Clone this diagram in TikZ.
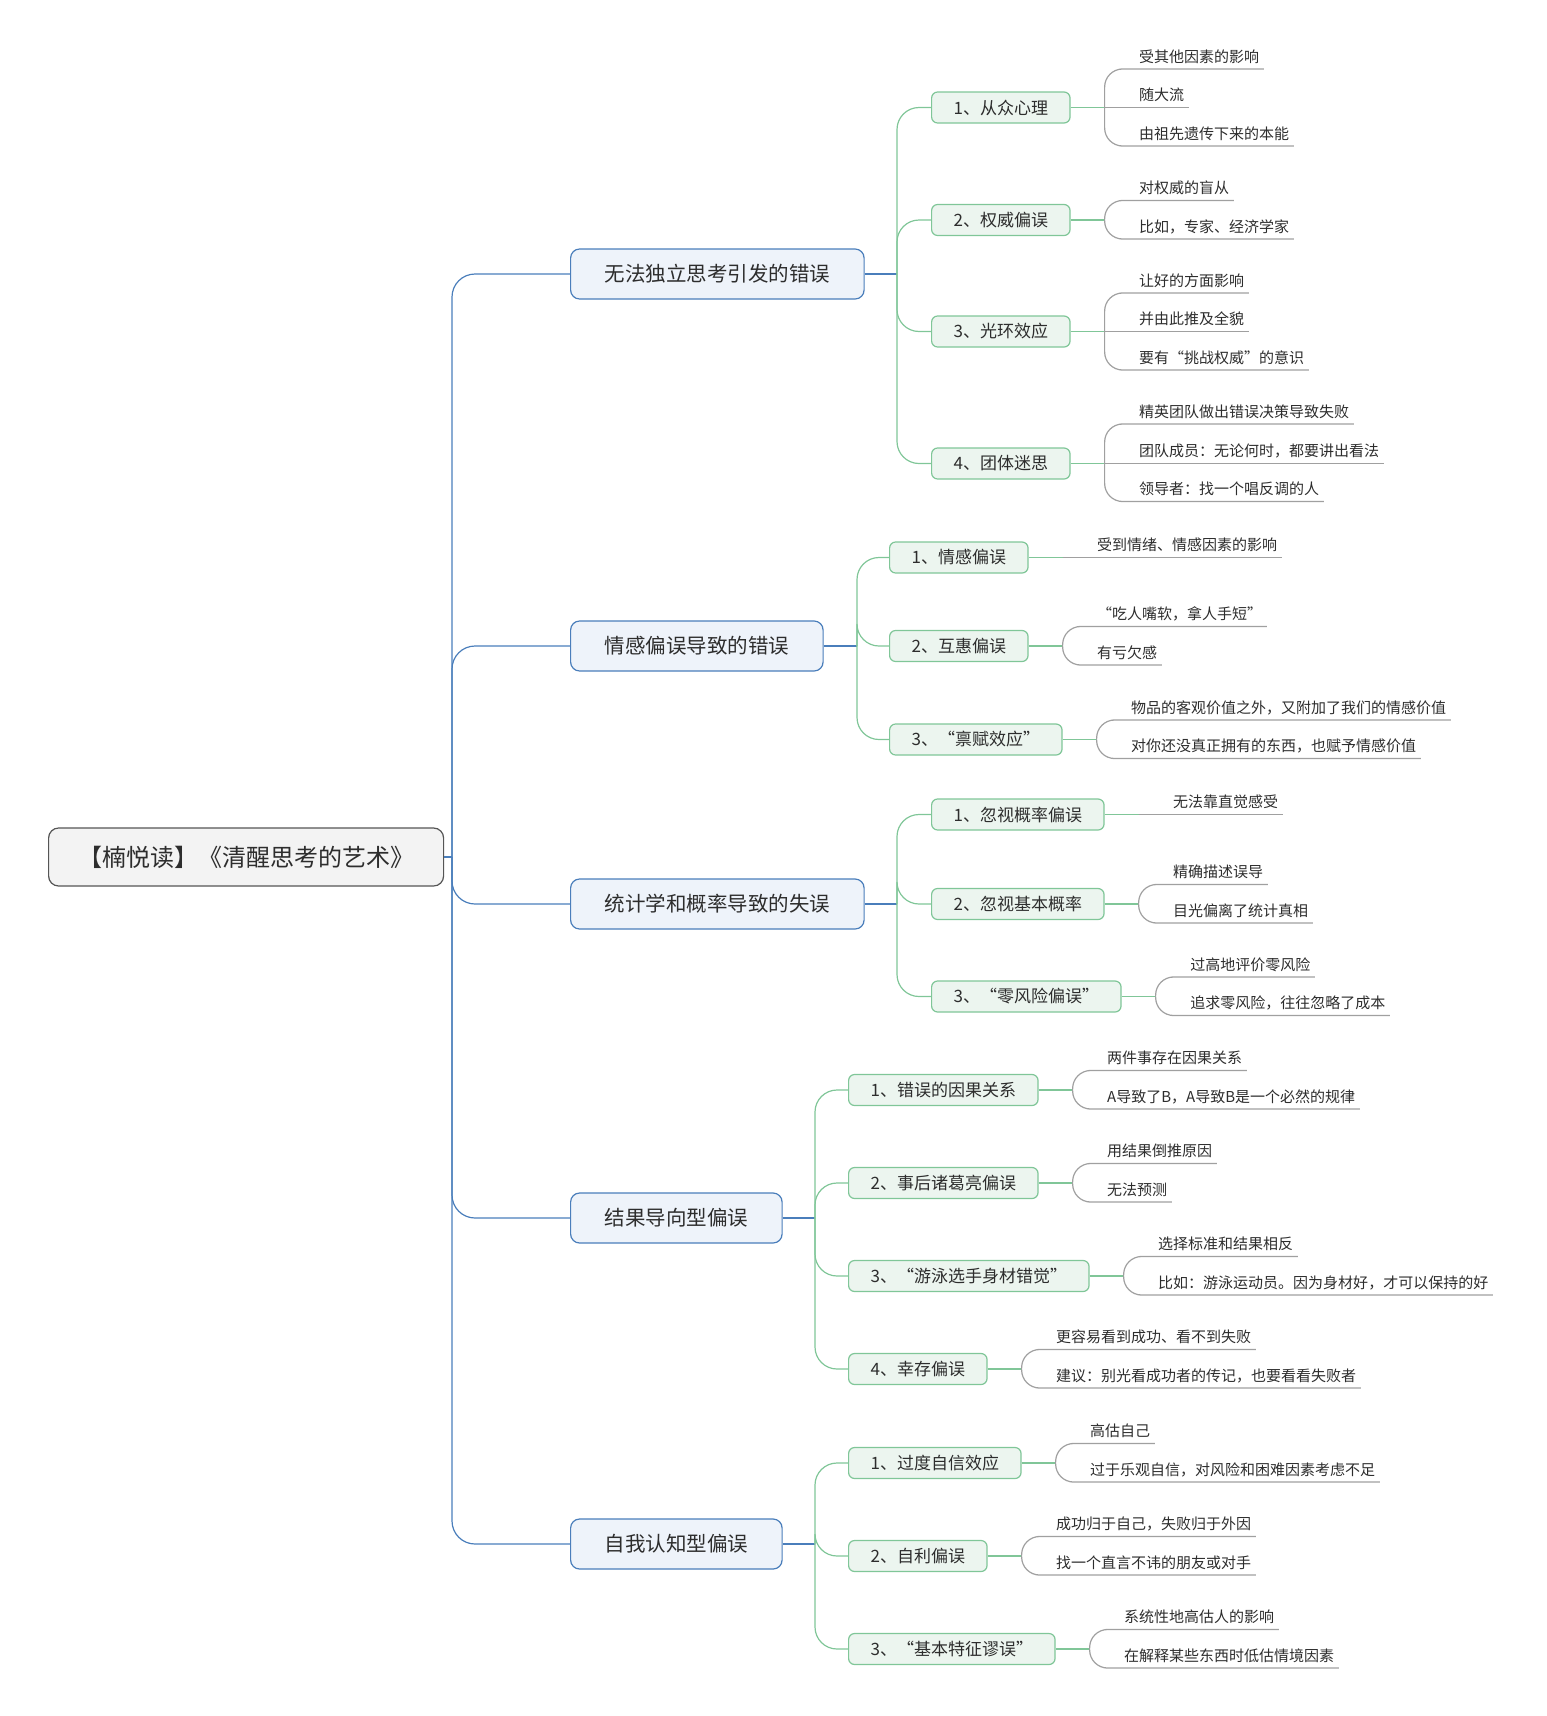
\documentclass[tikz,border=0pt]{standalone}
\usepackage{fontspec}
\setmainfont{Noto Sans CJK SC}
\usepackage{xcolor}
\usepackage{tikz}
\usetikzlibrary{calc,positioning}
\definecolor{mainblue}{RGB}{74,126,187}
\definecolor{mainfill}{RGB}{238,243,250}
\definecolor{subgreen}{RGB}{128,198,152}
\definecolor{subfill}{RGB}{236,245,239}
\definecolor{rootline}{RGB}{85,85,85}
\definecolor{rootfill}{RGB}{243,243,243}
\definecolor{leafline}{RGB}{160,160,160}
\definecolor{txt}{RGB}{45,45,45}

\begin{document}
\begin{tikzpicture}[x=1pt,y=-1pt,line width=1.2pt,text=txt]
\tikzset{
  rootbox/.style={draw=rootline,fill=rootfill,rounded corners=10pt,anchor=west,minimum width=395pt,minimum height=58pt,font=\fontsize{24}{28}\selectfont},
  mainbox/.style={draw=mainblue,fill=mainfill,rounded corners=9pt,anchor=west,inner xsep=34pt,minimum height=50pt,font=\fontsize{20.5}{24}\selectfont},
  subbox/.style={draw=subgreen,fill=subfill,rounded corners=6pt,anchor=west,inner xsep=22pt,minimum height=31pt,font=\fontsize{17}{20}\selectfont},
  leaf/.style={anchor=south west,inner xsep=0pt,inner ysep=3pt,text depth=3pt,font=\fontsize{15}{18}\selectfont},
  bl/.style={draw=mainblue,rounded corners=23pt},
  gr/.style={draw=subgreen,rounded corners=22pt},
  lf/.style={draw=leafline,rounded corners=18pt}
}
\useasboundingbox (0,0) rectangle (1547,1716);

% root and main topics
\node[rootbox] (root) at (48,857) {【楠悦读】《清醒思考的艺术》};
\node[mainbox] (m1) at (570,274) {无法独立思考引发的错误};
\node[mainbox] (m2) at (570,646) {情感偏误导致的错误};
\node[mainbox] (m3) at (570,904) {统计学和概率导致的失误};
\node[mainbox] (m4) at (570,1218) {结果导向型偏误};
\node[mainbox] (m5) at (570,1544) {自我认知型偏误};
\coordinate (t0) at (452,857);
\draw[bl] (root.east) -- (t0);
\foreach \m in {m1,m2,m3,m4,m5}\draw[bl] (t0) |- (\m.west);

% branch 1
\node[subbox] (s11) at (931,107.5) {1、从众心理};
\node[subbox] (s12) at (931,220) {2、权威偏误};
\node[subbox] (s13) at (931,331.5) {3、光环效应};
\node[subbox] (s14) at (931,463.5) {4、团体迷思};
\coordinate (t1) at (897,274);
\draw[bl] (m1.east) -- (t1);
\foreach \s in {s11,s12,s13,s14}\draw[gr] (t1) |- (\s.west);

% branch 2
\node[subbox] (s21) at (889,557.5) {1、情感偏误};
\node[subbox] (s22) at (889,646) {2、互惠偏误};
\node[subbox] (s23) at (889,739.5) {3、“禀赋效应”};
\coordinate (t2) at (857,646);
\draw[bl] (m2.east) -- (t2);
\foreach \s in {s21,s22,s23}\draw[gr] (t2) |- (\s.west);

% branch 3
\node[subbox] (s31) at (931,814.5) {1、忽视概率偏误};
\node[subbox] (s32) at (931,904) {2、忽视基本概率};
\node[subbox] (s33) at (931,996.5) {3、“零风险偏误”};
\coordinate (t3) at (897,904);
\draw[bl] (m3.east) -- (t3);
\foreach \s in {s31,s32,s33}\draw[gr] (t3) |- (\s.west);

% branch 4
\node[subbox] (s41) at (848,1090) {1、错误的因果关系};
\node[subbox] (s42) at (848,1183) {2、事后诸葛亮偏误};
\node[subbox] (s43) at (848,1276) {3、“游泳选手身材错觉”};
\node[subbox] (s44) at (848,1369) {4、幸存偏误};
\coordinate (t4) at (815,1218);
\draw[bl] (m4.east) -- (t4);
\foreach \s in {s41,s42,s43,s44}\draw[gr] (t4) |- (\s.west);

% branch 5
\node[subbox] (s51) at (848,1463) {1、过度自信效应};
\node[subbox] (s52) at (848,1556) {2、自利偏误};
\node[subbox] (s53) at (848,1649) {3、“基本特征谬误”};
\coordinate (t5) at (815,1544);
\draw[bl] (m5.east) -- (t5);
\foreach \s in {s51,s52,s53}\draw[gr] (t5) |- (\s.west);

% details
\foreach \s/\items in {
  s11/{-38.5/受其他因素的影响, 0/随大流, 38.5/由祖先遗传下来的本能},
  s12/{-19.5/对权威的盲从, 19/比如，专家、经济学家},
  s13/{-38.5/让好的方面影响, 0/并由此推及全貌, 38.5/要有“挑战权威”的意识},
  s14/{-39.5/精英团队做出错误决策导致失败, 0/团队成员：无论何时，都要讲出看法, 38/领导者：找一个唱反调的人},
  s21/{0/受到情绪、情感因素的影响},
  s22/{-19.5/“吃人嘴软，拿人手短”, 19/有亏欠感},
  s23/{-19.5/物品的客观价值之外，又附加了我们的情感价值, 19/对你还没真正拥有的东西，也赋予情感价值},
  s31/{0/无法靠直觉感受},
  s32/{-19.5/精确描述误导, 19/目光偏离了统计真相},
  s33/{-19.5/过高地评价零风险, 19/追求零风险，往往忽略了成本},
  s41/{-19.5/两件事存在因果关系, 19/A导致了B，A导致B是一个必然的规律},
  s42/{-19.5/用结果倒推原因, 19/无法预测},
  s43/{-19.5/选择标准和结果相反, 19/比如：游泳运动员。因为身材好，才可以保持的好},
  s44/{-19.5/更容易看到成功、看不到失败, 19/建议：别光看成功者的传记，也要看看失败者},
  s51/{-19.5/高估自己, 19/过于乐观自信，对风险和困难因素考虑不足},
  s52/{-19.5/成功归于自己，失败归于外因, 19/找一个直言不讳的朋友或对手},
  s53/{-19.5/系统性地高估人的影响, 19/在解释某些东西时低估情境因素}}{
  \coordinate (b\s) at ($(\s.east)+(34,0)$);
  \draw[gr] (\s.east) -- (b\s);
  \foreach \dy/\t [count=\k] in \items{
    \node[leaf] (l\s\k) at ($(\s.east)+(68,\dy)$) {\t};
    \ifdim\dy pt=0pt
      \draw[lf] (b\s) -- ([xshift=4pt]l\s\k.south east);
    \else
      \draw[lf] (b\s) |- (l\s\k.south west) -- ([xshift=4pt]l\s\k.south east);
    \fi
  }
}
\end{tikzpicture}
\end{document}
